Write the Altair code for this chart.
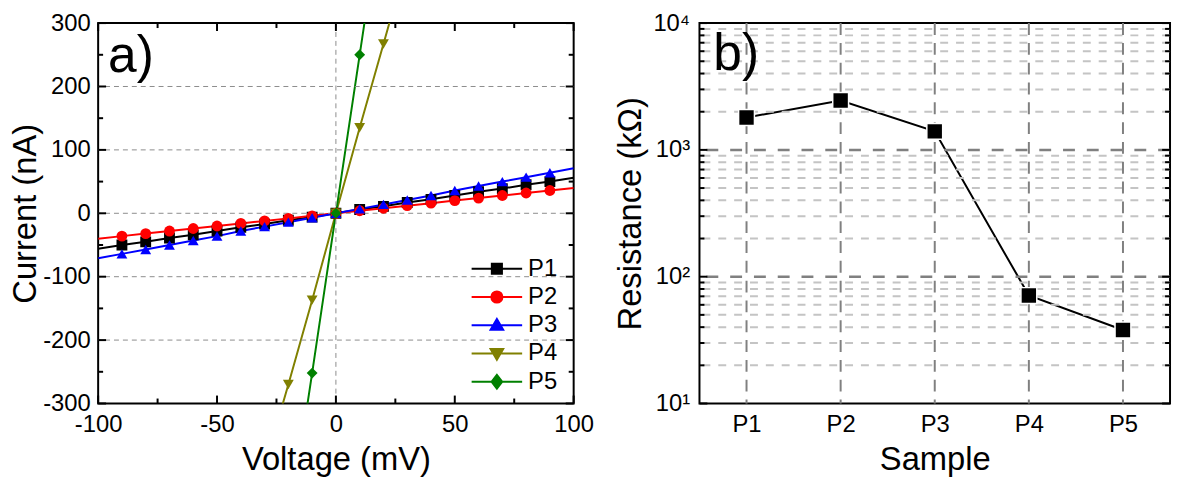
import altair as alt
import pandas as pd

# ---------------- data ----------------
series = ["P1", "P2", "P3", "P4", "P5"]
colors = ["#000000", "#ff0000", "#0000ff", "#808000", "#008000"]
shapes = ["square", "circle", "triangle-up", "triangle-down", "diamond"]

v_lin = [-100, -90, -80, -70, -60, -50, -40, -30, -20, -10, 0,
         10, 20, 30, 40, 50, 60, 70, 80, 90, 100]
i_p1 = [-56, -50, -45, -39, -34, -28, -22, -17, -11, -6, 0,
        6, 11, 17, 22, 28, 34, 39, 45, 50, 56]
i_p2 = [-40, -36, -32, -28, -24, -20, -16, -12, -8, -4, 0,
        4, 8, 12, 16, 20, 24, 28, 32, 36, 40]
i_p3 = [-71, -64, -57, -50, -43, -36, -28, -21, -14, -7, 0,
        7, 14, 21, 28, 36, 43, 50, 57, 64, 71]
v_p4 = [-30, -20, -10, 0, 10, 20, 30]
i_p4 = [-400, -270, -137, 0, 135, 267, 400]
v_p5 = [-20, -10, 0, 10, 20]
i_p5 = [-500, -252, 0, 250, 500]

samples = ["P1", "P2", "P3", "P4", "P5"]
resistance = [1800, 2450, 1400, 71, 38]

# grid / tick values
left_grid_y = [-200, -100, 0, 100, 200]
left_grid_x = [0]
left_xt_major = [-100, -50, 0, 50, 100]
left_xt_minor = [-75, -25, 25, 75]
left_yt_major = [-300, -200, -100, 0, 100, 200, 300]
left_yt_minor = [-250, -150, -50, 50, 150, 250]
right_major = [10, 100, 1000, 10000]
right_grid_major = [100, 1000]
right_minor = [20, 30, 40, 50, 60, 70, 80, 90,
               200, 300, 400, 500, 600, 700, 800, 900,
               2000, 3000, 4000, 5000, 6000, 7000, 8000, 9000]
right_labels = ["10\u00b9", "10\u00b2", "10\u00b3", "10\u2074"]

FONT = "Liberation Sans"
W1, H1 = 480, 384
W2, H2 = 475, 384

rows = []
for name, vs, cs in [("P1", v_lin, i_p1), ("P2", v_lin, i_p2), ("P3", v_lin, i_p3),
                     ("P4", v_p4, i_p4), ("P5", v_p5, i_p5)]:
    for v, c in zip(vs, cs):
        rows.append({"series": name, "v": v, "i": c})
iv = pd.DataFrame(rows)

xs1 = alt.Scale(domain=[-100, 100], nice=False, zero=False)
ys1 = alt.Scale(domain=[-300, 300], nice=False, zero=False)

AX = dict(labelFont=FONT, titleFont=FONT, labelFontSize=24, titleFontSize=33,
          titleFontWeight="normal", labelColor="black", titleColor="black",
          domain=False, ticks=False, grid=False, labelFlush=False, labelOverlap=False)


def df(vals):
    return pd.DataFrame({"t": vals})


# ---------------- left panel ----------------
# (secondary layers leave "axis" unset so the main layer's axis is the one drawn)
gy = alt.Chart(df(left_grid_y)).mark_rule(color="#8c8c8c", strokeDash=[5, 4], strokeWidth=1).encode(
    y=alt.Y("t:Q", scale=ys1))
gx = alt.Chart(df(left_grid_x)).mark_rule(color="#8c8c8c", strokeDash=[5, 4], strokeWidth=1).encode(
    x=alt.X("t:Q", scale=xs1))


def xticks(vals, length, scale, h):
    base = alt.Chart(df(vals)).mark_rule(color="black", strokeWidth=2)
    bot = base.encode(x=alt.X("t:Q", scale=scale), y=alt.value(h - length), y2=alt.value(h))
    top = base.encode(x=alt.X("t:Q", scale=scale), y=alt.value(0), y2=alt.value(length))
    return [bot, top]


def yticks(vals, length, scale, w):
    base = alt.Chart(df(vals)).mark_rule(color="black", strokeWidth=2)
    lft = base.encode(y=alt.Y("t:Q", scale=scale), x=alt.value(0), x2=alt.value(length))
    rgt = base.encode(y=alt.Y("t:Q", scale=scale), x=alt.value(w - length), x2=alt.value(w))
    return [lft, rgt]


lines = alt.Chart(iv).mark_line(strokeWidth=2, clip=True).encode(
    x=alt.X("v:Q", scale=xs1,
            axis=alt.Axis(values=left_xt_major, labelExpr="'' + datum.value",
                          title="Voltage (mV)", labelPadding=9, titlePadding=8, **AX)),
    y=alt.Y("i:Q", scale=ys1,
            axis=alt.Axis(values=left_yt_major, labelExpr="'' + datum.value",
                          title="Current (nA)", labelPadding=8, titlePadding=0, **AX)),
    stroke=alt.Stroke("series:N", scale=alt.Scale(domain=series, range=colors), legend=None),
    order="v:Q",
)

points = alt.Chart(iv).transform_filter(
    "abs(datum.v) < 100 && abs(datum.i) <= 300"
).mark_point(filled=True, size=120, opacity=1, clip=True).encode(
    x=alt.X("v:Q", scale=xs1),
    y=alt.Y("i:Q", scale=ys1),
    color=alt.Color("series:N", scale=alt.Scale(domain=series, range=colors), legend=None),
    shape=alt.Shape("series:N", scale=alt.Scale(domain=series, range=shapes), legend=None),
)

# legend symbols: a line with the marker in the middle (unit coords, +/-1 = half width)
LINE = "M-1,0L1,0"
legend_paths = [
    LINE + "M-0.2,-0.2L0.2,-0.2L0.2,0.2L-0.2,0.2Z",
    LINE + "M-0.22,0A0.22,0.22,0,1,0,0.22,0A0.22,0.22,0,1,0,-0.22,0Z",
    LINE + "M0,-0.25L0.25,0.18L-0.25,0.18Z",
    LINE + "M0,0.25L0.25,-0.18L-0.25,-0.18Z",
    LINE + "M0,-0.27L0.21,0L0,0.27L-0.21,0Z",
]

leg = alt.Legend(
    title=None, orient="none", legendX=376, legendY=238,
    symbolSize=2601, clipHeight=20, rowPadding=4.5, padding=0,
    labelFont=FONT, labelFontSize=24, labelColor="black", labelOffset=5,
    symbolStrokeWidth=2,
)
legend_layer = alt.Chart(iv).transform_filter("false").mark_point(
    filled=True, opacity=1, size=2601, strokeWidth=2
).encode(
    x=alt.X("v:Q", scale=xs1),
    y=alt.Y("i:Q", scale=ys1),
    fill=alt.Fill("series:N", scale=alt.Scale(domain=series, range=colors), legend=leg),
    stroke=alt.Stroke("series:N", scale=alt.Scale(domain=series, range=colors), legend=leg),
    shape=alt.Shape("series:N", scale=alt.Scale(domain=series, range=legend_paths), legend=leg),
)

label_a = alt.Chart(pd.DataFrame({"t": ["a)"]})).mark_text(
    align="left", baseline="alphabetic", font=FONT, fontSize=52, color="black"
).encode(text="t:N", x=alt.value(10), y=alt.value(49))

left = alt.layer(
    lines, gy, gx, points,
    *xticks(left_xt_major, 8, xs1, H1), *xticks(left_xt_minor, 5, xs1, H1),
    *yticks(left_yt_major, 8, ys1, W1), *yticks(left_yt_minor, 5, ys1, W1),
    label_a, legend_layer,
).resolve_scale(shape="independent", fill="independent", stroke="independent", color="independent"
).properties(width=W1, height=H1)

# ---------------- right panel ----------------
xs2 = alt.Scale(type="point", domain=samples, padding=0.5)
ys2 = alt.Scale(type="log", domain=[10, 10000], nice=False)

rdf = pd.DataFrame({"sample": samples, "R": resistance})

gminor = alt.Chart(df(right_minor)).mark_rule(color="#c4c4c4", strokeDash=[8, 8], strokeWidth=2).encode(
    y=alt.Y("t:Q", scale=ys2))
gmajor = alt.Chart(df(right_grid_major)).mark_rule(color="#808080", strokeDash=[12, 12], strokeWidth=2.5).encode(
    y=alt.Y("t:Q", scale=ys2))
gvert = alt.Chart(pd.DataFrame({"s": samples})).mark_rule(color="#808080", strokeDash=[12, 8], strokeWidth=2).encode(
    x=alt.X("s:N", scale=xs2))

rline = alt.Chart(rdf).mark_line(color="black", strokeWidth=2).encode(
    x=alt.X("sample:N", scale=xs2,
            axis=alt.Axis(title="Sample", labelAngle=0, labelPadding=9, titlePadding=8, **AX)),
    y=alt.Y("R:Q", scale=ys2,
            axis=alt.Axis(values=right_major, title="Resistance (k\u03a9)",
                          labelExpr="['" + "','".join(right_labels) + "'][round(log(datum.value)/LN10)-1]",
                          labelPadding=10, titlePadding=6, **AX)),
)
rpts = alt.Chart(rdf).mark_point(shape="square", filled=True, size=256, color="black",
                                 stroke="white", strokeWidth=1.5, opacity=1).encode(
    x=alt.X("sample:N", scale=xs2),
    y=alt.Y("R:Q", scale=ys2),
)

label_b = alt.Chart(pd.DataFrame({"t": ["b)"]})).mark_text(
    align="left", baseline="alphabetic", font=FONT, fontSize=52, color="black"
).encode(text="t:N", x=alt.value(14), y=alt.value(47))

right = alt.layer(
    rline, gminor, gmajor, gvert, rpts,
    *yticks(right_major, 8, ys2, W2), *yticks(right_minor, 5, ys2, W2),
    label_b,
).properties(width=W2, height=H2)

chart = alt.hconcat(left, right, spacing=17).properties(
    padding={"left": 0, "top": 0, "right": 0, "bottom": 0}
).configure_view(stroke="black", strokeWidth=2).configure_legend(labelFont=FONT)

chart.save("out.html", embed_options={"renderer": "svg", "actions": False})
